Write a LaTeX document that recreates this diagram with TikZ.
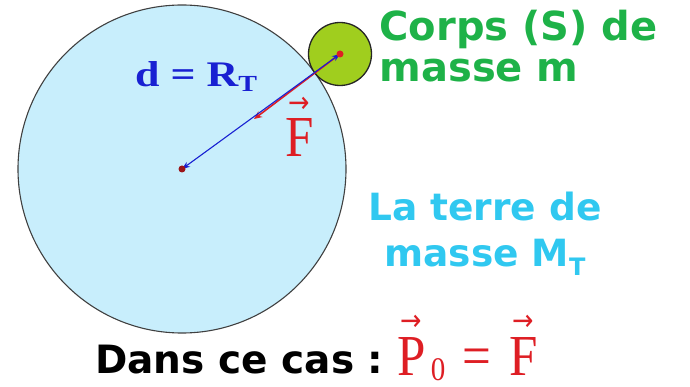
\documentclass[tikz,border=0pt]{standalone}
\usepackage{amsmath}
\usepackage{fontspec}
\setmainfont{Liberation Serif}
\newfontfamily\verd{DejaVu Sans}
\usetikzlibrary{arrows.meta}
\definecolor{earthblue}{RGB}{200,238,252}
\definecolor{bodygreen}{RGB}{160,206,30}
\definecolor{labelgreen}{RGB}{30,178,72}
\definecolor{labelcyan}{RGB}{48,200,240}
\definecolor{forcered}{RGB}{222,30,36}
\definecolor{distblue}{RGB}{24,32,210}
\newcommand{\vecarrow}[1]{\leavevmode\vbox{\offinterlineskip\halign{\hfil##\hfil\cr\resizebox{0.42em}{!}{\verd →}\cr\noalign{\kern0.12em}#1\cr}}}
\newcommand{\lowsub}[3]{\raisebox{#1}{\fontsize{#2}{#2}\selectfont #3}}

\begin{document}
\begin{tikzpicture}[x=1pt,y=-1pt]
    \useasboundingbox (0,0) rectangle (690,387);
    % Earth and body
    \node[circle, draw=black!75, line width=1.1pt, fill=earthblue, minimum size=328pt, inner sep=0pt] (earth) at (182,169) {};
    \node[circle, draw=black!85, line width=1.3pt, fill=bodygreen, minimum size=63pt, inner sep=0pt] (body) at (340,54) {};
    % Force and distance
    \coordinate (ftip) at (254,119);
    \draw[forcered, line width=1.6pt, -{Stealth[length=8pt,width=7pt]}, shift={(1.2,1.6)}] (body.center) -- (ftip);
    \draw[distblue, line width=1.1pt, {Stealth[length=8pt,width=6pt]}-{Stealth[length=8pt,width=6pt]}] (body.center) -- (earth.center);
    \fill[forcered] (body.center) circle (3.5);
    \fill[forcered!70!black] (earth.center) circle (3.5);
    % Labels
    \node[distblue, anchor=base west, inner sep=0pt, xscale=1.22, font=\bfseries\fontsize{36}{38}\selectfont] (dist) at (135,87) {d = R\lowsub{-0.3ex}{23}{T}};
    \node[forcered, anchor=base west, inner sep=0pt, xscale=0.88, font=\fontsize{58}{60}\selectfont] (flabel) at (285,157) {\vecarrow{F}};
    \node[labelgreen, align=left, anchor=north west, font=\verd\bfseries\fontsize{40}{41}\selectfont] (corps) at (376,7) {Corps (S) de\\masse m};
    \node[labelcyan, align=center, font=\verd\bfseries\fontsize{37.5}{46}\selectfont] (terre) at (485,234) {La terre de\\masse M\lowsub{-0.45ex}{24}{T}};
    \node[anchor=base west, inner sep=0pt, font=\verd\bfseries\fontsize{39}{40}\selectfont] (cas) at (95,373) {Dans ce cas :};
    \node[forcered, anchor=base west, inner sep=0pt, xscale=0.88, font=\fontsize{58}{60}\selectfont] (egal) at (397,375) {\vecarrow{P}\kern6pt\lowsub{-0.22ex}{33}{0}\kern20pt=\kern20pt\vecarrow{F}};
\end{tikzpicture}
\end{document}
